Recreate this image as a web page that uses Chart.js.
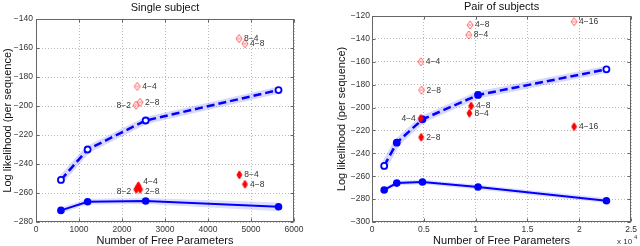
<!DOCTYPE html>
<html><head><meta charset="utf-8">
<script src="https://cdn.jsdelivr.net/npm/chart.js@4/dist/chart.umd.min.js"></script>
<style>
html,body{margin:0;padding:0;background:#fff;width:640px;height:246px;overflow:hidden}
canvas{position:absolute;top:0}
#c1{left:0}#c2{left:320px}
</style></head><body>
<canvas id="c1" width="320" height="246"></canvas>
<canvas id="c2" width="320" height="246"></canvas>
<script>
// ---------- Single subject ----------
const singleParams = [580, 1200, 2550, 5640];
const singleDashed = [-251, -230, -210, -189];
const singleSolid = [-272, -266, -265.5, -269.5];
const singleSolidUpper = [-270, -264, -263.5, -266.5];
const singleSolidLower = [-274, -268, -267.5, -272.5];
const singleOpenX = [2356, 2326, 2419, 4721, 4860];
const singleOpenY = [-186.5, -199.5, -197.5, -153.5, -157];
const singleOpenLabels = ['4−4', '8−2', '2−8', '8−4', '4−8'];
const singleFilledX = [2380, 2330, 2420, 4729, 4860];
const singleFilledY = [-255, -257.5, -257.5, -247.5, -254];
const singleFilledLabels = ['4−4', '8−2', '2−8', '8−4', '4−8'];
const singleXTicks = [0, 1000, 2000, 3000, 4000, 5000, 6000];
const singleYTicks = [-280, -260, -240, -220, -200, -180, -160, -140];

// ---------- Pair of subjects ----------
const pairParams = [1176, 2390, 4870, 10230, 22620];
const pairDashed = [-251, -230.7, -210.3, -189, -166.6];
const pairSolid = [-272, -266, -265, -269.4, -281.4];
const pairSolidUpper = [-270, -264, -263, -267.5, -279];
const pairSolidLower = [-274, -268, -267, -271.5, -283.5];
const pairOpenX = [4713, 4780, 9330, 9465, 19500];
const pairOpenY = [-160, -184.8, -136.6, -127.9, -125];
const pairOpenLabels = ['4−4', '2−8', '8−4', '4−8', '4−16'];
const pairFilledX = [4713, 4742, 9400, 9560, 19500];
const pairFilledY = [-209.4, -226, -205, -198.6, -216.7];
const pairFilledLabels = ['4−4', '2−8', '8−4', '4−8', '4−16'];
const pairXTicks = [0, 5000, 10000, 15000, 20000, 25000];
const pairYTicks = [-300, -280, -260, -240, -220, -200, -180, -160, -140, -120];

// ---------- styles ----------
const FONT = "'Liberation Sans', Arial, Helvetica, sans-serif";
Chart.defaults.font.family = FONT;
const BLUE = '#0000ff';

function diamond(w, h, fill, stroke, inner) {
  const c = document.createElement('canvas');
  c.width = w + 2; c.height = h + 2;
  const g = c.getContext('2d');
  const cx = c.width / 2, cy = c.height / 2;
  g.beginPath();
  g.moveTo(cx, cy - h / 2); g.lineTo(cx + w / 2, cy); g.lineTo(cx, cy + h / 2); g.lineTo(cx - w / 2, cy); g.closePath();
  if (fill) { g.fillStyle = fill; g.fill(); }
  if (stroke) { g.strokeStyle = stroke; g.lineWidth = 1; g.stroke(); }
  if (inner) { g.beginPath(); g.moveTo(cx - 1.5, cy); g.lineTo(cx + 1.5, cy); g.strokeStyle = stroke; g.stroke(); }
  return c;
}
const filledDiamond = diamond(5, 8, '#ff0000', '#ff0000', false);
const openDiamond = diamond(6, 8, null, '#ff5a5a', true);

const pts = (xs, ys) => xs.map((x, i) => ({x, y: ys[i]}));
const minus = v => (v < 0 ? '\u2212' : '') + Math.abs(v);

const decor = {
  id: 'decor',
  afterDatasetsDraw(chart) {
    const ctx = chart.ctx;
    ctx.save();
    ctx.font = '8.5px ' + FONT;
    ctx.fillStyle = '#333';
    ctx.textBaseline = 'middle';
    chart.data.datasets.forEach((ds, di) => {
      if (!ds.pointLabels) return;
      const meta = chart.getDatasetMeta(di);
      meta.data.forEach((el, i) => {
        const side = ds.labelSide ? ds.labelSide[i] : 'r';
        const dy = ds.labelDy ? ds.labelDy[i] : 0;
        ctx.textAlign = side === 'l' ? 'right' : 'left';
        ctx.fillText(ds.pointLabels[i], el.x + (side === 'l' ? -5 : 5), el.y + dy);
      });
    });
    ctx.restore();
  },
  afterDraw(chart) {
    const ctx = chart.ctx, a = chart.chartArea;
    const o = chart.options.plugins.decor;
    ctx.save();
    ctx.strokeStyle = '#666';
    ctx.lineWidth = 1;
    const L = Math.round(a.left) + 0.5, R = Math.round(a.right) - 0.5, T = Math.round(a.top) + 0.5, B = Math.round(a.bottom) - 0.5;
    ctx.strokeRect(L, T, R - L, B - T);
    ctx.beginPath();
    chart.scales.x.ticks.forEach(t => {
      const px = Math.round(chart.scales.x.getPixelForValue(t.value)) + 0.5;
      ctx.moveTo(px, B); ctx.lineTo(px, B - 3);
      ctx.moveTo(px, T); ctx.lineTo(px, T + 3);
    });
    chart.scales.y.ticks.forEach(t => {
      const py = Math.round(chart.scales.y.getPixelForValue(t.value)) + 0.5;
      ctx.moveTo(L, py); ctx.lineTo(L + 3, py);
      ctx.moveTo(R, py); ctx.lineTo(R - 3, py);
    });
    ctx.stroke();
    ctx.fillStyle = '#111';
    ctx.font = '11px ' + FONT;
    ctx.textAlign = 'center';
    ctx.textBaseline = 'middle';
    ctx.fillText(o.title, (a.left + a.right) / 2, o.titleY);
    if (o.exponent) {
      ctx.fillStyle = '#333';
      ctx.textAlign = 'left';
      ctx.textBaseline = 'alphabetic';
      ctx.font = '8px ' + FONT;
      ctx.fillText('x 10', 297, 244);
      ctx.font = '6px ' + FONT;
      ctx.fillText('4', 314, 239);
    }
    ctx.restore();
  }
};

function makeChart(id, cfg) {
  const datasets = [
    {data: pts(cfg.params, cfg.dashed), borderColor: 'rgba(140,140,255,0.35)', borderWidth: 7, pointRadius: 0, fill: false, order: 10},
    {data: pts(cfg.params, cfg.upper), borderWidth: 0, borderColor: 'rgba(0,0,0,0)', pointRadius: 0, fill: '+1', backgroundColor: 'rgba(160,160,255,0.35)', order: 9},
    {data: pts(cfg.params, cfg.lower), borderWidth: 0, borderColor: 'rgba(0,0,0,0)', pointRadius: 0, fill: false, order: 9},
    {data: pts(cfg.params, cfg.dashed), borderColor: BLUE, borderWidth: 2.5, borderDash: [8, 4], pointRadius: 3, pointBorderWidth: 1.8, pointBorderColor: BLUE, pointBackgroundColor: cfg.dashedFill, fill: false, order: 5},
    {data: pts(cfg.params, cfg.solid), borderColor: BLUE, borderWidth: 2, pointRadius: 3.8, pointBorderWidth: 0, pointBackgroundColor: BLUE, fill: false, order: 5},
    {data: pts(cfg.openX, cfg.openY), showLine: false, pointStyle: openDiamond, pointRadius: 4, pointLabels: cfg.openLabels, labelSide: cfg.openSide, order: 1},
    {data: pts(cfg.filledX, cfg.filledY), showLine: false, pointStyle: filledDiamond, pointRadius: 4, pointLabels: cfg.filledLabels, labelSide: cfg.filledSide, labelDy: cfg.filledDy, order: 1}
  ];
  return new Chart(document.getElementById(id), {
    type: 'line',
    data: {datasets},
    plugins: [decor],
    options: {
      responsive: false, animation: false, parsing: true,
      layout: {padding: {top: cfg.top, right: cfg.right, left: 0, bottom: 0}},
      plugins: {legend: {display: false}, tooltip: {enabled: false}, decor: {title: cfg.title, titleY: cfg.titleY, exponent: cfg.exponent}},
      elements: {line: {tension: 0}},
      scales: {
        x: {
          type: 'linear', min: cfg.xTicks[0], max: cfg.xTicks[cfg.xTicks.length - 1],
          afterBuildTicks: s => { s.ticks = cfg.xTicks.map(v => ({value: v})); },
          afterFit: s => { s.height = cfg.xHeight; },
          ticks: {callback: cfg.xFmt, color: '#333', font: {size: 8.5}, padding: 3, maxRotation: 0, autoSkip: false},
          grid: {color: '#b8b8b8', lineWidth: 1, drawTicks: false},
          border: {display: false, dash: [1, 2]},
          title: {display: true, text: 'Number of Free Parameters', color: '#111', font: {size: 11, lineHeight: 1}, padding: {top: 0, bottom: 0}}
        },
        y: {
          type: 'linear', min: cfg.yTicks[0], max: cfg.yTicks[cfg.yTicks.length - 1],
          afterBuildTicks: s => { s.ticks = cfg.yTicks.map(v => ({value: v})); },
          afterFit: s => { s.width = cfg.yWidth; },
          ticks: {callback: minus, color: '#333', font: {size: 8.5}, padding: cfg.yTickPad, autoSkip: false},
          grid: {color: '#b8b8b8', lineWidth: 1, drawTicks: false},
          border: {display: false, dash: [1, 2]},
          title: {display: true, text: 'Log likelihood (per sequence)', color: '#111', font: {size: 11, lineHeight: 1}, padding: {top: cfg.yTitlePad, bottom: 0}}
        }
      }
    }
  });
}

makeChart('c1', {
  title: 'Single subject', titleY: 7.5, exponent: false,
  params: singleParams, dashed: singleDashed, solid: singleSolid, upper: singleSolidUpper, lower: singleSolidLower,
  dashedFill: '#ffffff',
  openX: singleOpenX, openY: singleOpenY, openLabels: singleOpenLabels, openSide: ['r', 'l', 'r', 'r', 'r'],
  filledX: singleFilledX, filledY: singleFilledY, filledLabels: singleFilledLabels, filledSide: ['r', 'l', 'r', 'r', 'r'], filledDy: [-4, 2, 2, 0, 0],
  xTicks: singleXTicks, yTicks: singleYTicks, xFmt: v => String(v),
  top: 19, right: 26, yWidth: 36, xHeight: 24, yTickPad: 3, yTitlePad: 2.5
});

makeChart('c2', {
  title: 'Pair of subjects', titleY: 6.5, exponent: true,
  params: pairParams, dashed: pairDashed, solid: pairSolid, upper: pairSolidUpper, lower: pairSolidLower,
  dashedFill: ['#ffffff', BLUE, BLUE, BLUE, '#ffffff'],
  openX: pairOpenX, openY: pairOpenY, openLabels: pairOpenLabels, openSide: ['r', 'r', 'r', 'r', 'r'],
  filledX: pairFilledX, filledY: pairFilledY, filledLabels: pairFilledLabels, filledSide: ['l', 'r', 'r', 'r', 'r'], filledDy: [0, 0, 0, 0, 0],
  xTicks: pairXTicks, yTicks: pairYTicks, xFmt: v => String(v / 10000),
  top: 16, right: 7, yWidth: 52, xHeight: 24, yTickPad: 2, yTitlePad: 16.5
});
</script>
</body></html>
